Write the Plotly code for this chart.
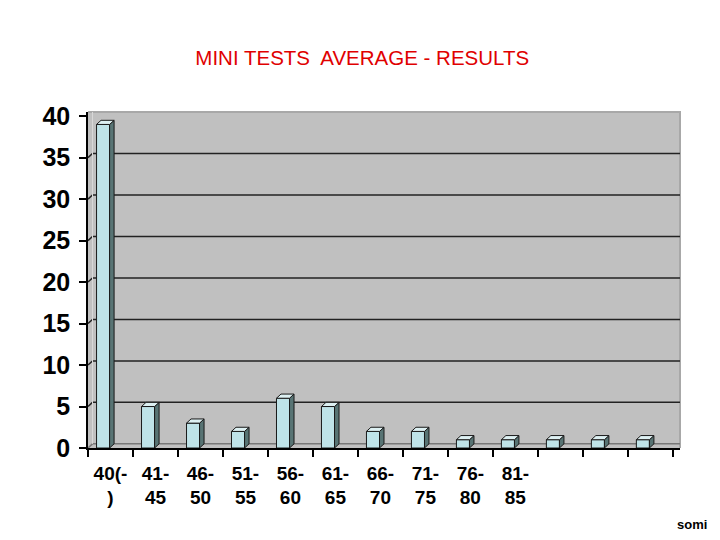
import plotly.graph_objects as go

# data
ranges = ['40(-<br>)', '41-<br>45', '46-<br>50', '51-<br>55', '56-<br>60', '61-<br>65',
          '66-<br>70', '71-<br>75', '76-<br>80', '81-<br>85', '', '', '']
counts = [39, 5, 3, 2, 6, 5, 2, 2, 1, 1, 1, 1, 1]
yticks = [0, 5, 10, 15, 20, 25, 30, 35, 40]

xs = list(range(len(counts)))
dx, dy = 0.1, 0.5          # fake 3d depth, data units
off, w = -0.31, 0.29       # bar front face placement
xmax = len(counts) - 0.5 + 0.16

front_c = '#BFE3E8'
side_c = '#587474'
top_c = '#DDF0F2'
edge_c = '#1A1A1A'

fig = go.Figure()

fig.add_trace(go.Bar(x=xs, y=counts, width=w, offset=off,
                     marker=dict(color=front_c, line=dict(color=edge_c, width=1)),
                     hoverinfo='skip'))

# side and top faces
sx, sy, tx, ty = [], [], [], []
for x, v in zip(xs, counts):
    x0, x1 = x + off, x + off + w
    sx += [x1, x1 + dx, x1 + dx, x1, x1, None]
    sy += [0, dy, v + dy, v, 0, None]
    tx += [x0, x0 + dx, x1 + dx, x1, x0, None]
    ty += [v, v + dy, v + dy, v, v, None]
fig.add_trace(go.Scatter(x=sx, y=sy, fill='toself', fillcolor=side_c, mode='lines',
                         line=dict(color=edge_c, width=1), hoverinfo='skip'))
fig.add_trace(go.Scatter(x=tx, y=ty, fill='toself', fillcolor=top_c, mode='lines',
                         line=dict(color=edge_c, width=1), hoverinfo='skip'))

# back wall gridlines, shifted by the depth
shapes = []
for v in yticks[:-1]:
    col = '#222222' if v > 0 else '#777777'
    shapes.append(dict(type='path', layer='below', xref='x', yref='y',
                       path=f'M -0.5 {v} L {-0.5 + dx} {v + dy} L {xmax} {v + dy}',
                       line=dict(color=col, width=1.5)))
shapes.append(dict(type='line', layer='below', xref='x', yref='y',
                   x0=-0.5 + dx, x1=-0.5 + dx, y0=dy, y1=40.5,
                   line=dict(color='#D8D8D8', width=1)))
shapes.append(dict(type='path', xref='paper', yref='paper', layer='below',
                   path='M 0 1 L 1 1 L 1 0', line=dict(color='#A8A8A8', width=2)))

# page body has an 8px margin, so everything is nudged up/left by 8
fig.update_layout(
    width=720, height=540,
    margin=dict(l=80, r=48, t=104, b=100),
    paper_bgcolor='white', plot_bgcolor='#C0C0C0',
    showlegend=False,
    shapes=shapes,
    title=dict(text='MINI TESTS  AVERAGE - RESULTS', x=0.492, xanchor='center',
               y=0.907, yanchor='middle',
               font=dict(family='Arial, Liberation Sans', size=20.5, color='#E00000')),
    font=dict(family='Arial, Liberation Sans', color='black'),
)

fig.update_xaxes(range=[-0.5, xmax], tickvals=xs, ticktext=ranges, ticks='',
                 showgrid=False, zeroline=False, showline=True,
                 linecolor='black', linewidth=1.5, ticklabelstandoff=7,
                 tickfont=dict(size=19, family='Arial, Liberation Sans', weight='bold'),
                 minor=dict(tickvals=[x - 0.5 for x in xs] + [len(xs) - 0.5],
                            ticks='outside', ticklen=7, tickcolor='black', tickwidth=1.5))
fig.update_yaxes(range=[0, 40.5], tickvals=yticks, showgrid=False, zeroline=False,
                 showline=True, linecolor='black', linewidth=1.5,
                 ticks='outside', ticklen=7, tickcolor='black', tickwidth=1.5,
                 ticklabelstandoff=4,
                 tickfont=dict(size=25, family='Arial, Liberation Sans', weight='bold'))

fig.add_annotation(text='<b>somi</b>', xref='paper', yref='paper', x=1.049, y=-0.229,
                   xanchor='right', yanchor='middle', showarrow=False,
                   font=dict(size=13, family='Arial, Liberation Sans', color='black'))

fig.write_html('out.html')
